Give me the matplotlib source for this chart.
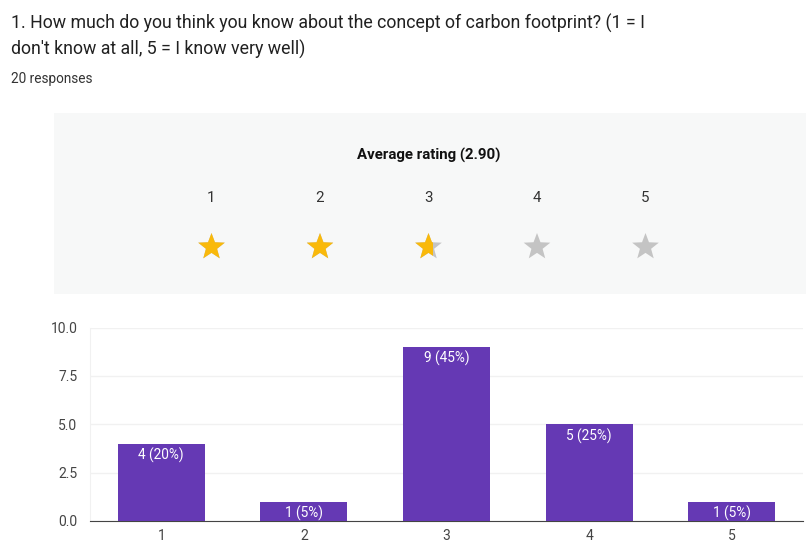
import matplotlib
matplotlib.use('Agg')
import matplotlib.pyplot as plt
from matplotlib.patches import Rectangle, Polygon
import numpy as np

plt.rcParams['font.family'] = 'Roboto'

ratings = ['1', '2', '3', '4', '5']
counts = [4, 1, 9, 5, 1]
bar_labels = ['4 (20%)', '1 (5%)', '9 (45%)', '5 (25%)', '1 (5%)']
y_ticks = [0, 2.5, 5, 7.5, 10]
y_labels = ['0.0', '2.5', '5.0', '7.5', '10.0']
# share of each star drawn in gold, as it looks in the picture
star_fill = [1, 1, 0.68, 0, 0]
star_x = [211.5, 320, 428.5, 537, 645.5]

W, H = 806, 556
fig = plt.figure(figsize=(W / 100, H / 100), dpi=100)

# full figure overlay in pixel coordinates
bg = fig.add_axes([0, 0, 1, 1])
bg.set_xlim(0, W)
bg.set_ylim(H, 0)
bg.axis('off')

bg.text(11, 23.5, '1. How much do you think you know about the concept of carbon footprint? (1 = I',
        fontsize=12.8, color='#212121', va='center')
bg.text(11, 49.5, "don't know at all, 5 = I know very well)",
        fontsize=12.8, color='#212121', va='center')
bg.text(11, 79.5, '20 responses', fontsize=9.8, color='#333333', va='center')

bg.add_patch(Rectangle((54, 113), 752, 181, color='#f7f8f8', lw=0))
bg.text(428.5, 155.5, 'Average rating (2.90)', fontsize=10.8, fontweight='bold',
        color='#111111', ha='center', va='center')


def star_points(cx, cy, r):
    pts = []
    for i in range(10):
        rad = r if i % 2 == 0 else r * 0.42
        ang = np.pi / 2 + i * np.pi / 5
        pts.append((cx + rad * np.cos(ang), cy - rad * np.sin(ang)))
    return pts


for i, x in enumerate(star_x):
    bg.text(x, 197.5, ratings[i], fontsize=10.8, color='#333333', ha='center', va='center')
    bg.add_patch(Polygon(star_points(x, 247, 14), closed=True, color='#c4c4c4', lw=0))
    if star_fill[i] > 0:
        gold = Polygon(star_points(x, 247, 14), closed=True, color='#f9b90b', lw=0)
        bg.add_patch(gold)
        clip = Rectangle((x - 13.4, 230), 26.8 * star_fill[i], 32, transform=bg.transData)
        gold.set_clip_path(clip)

ax = fig.add_axes([90 / W, 1 - 521 / H, (803 - 90) / W, (521 - 327.5) / H])
ax.bar(range(5), counts, width=0.61, color='#6539b4', zorder=3)
ax.set_xlim(-0.5, 4.5)
ax.set_ylim(0, 10)
ax.set_xticks(range(5))
ax.set_xticklabels(ratings)
ax.set_yticks(y_ticks)
ax.set_yticklabels(y_labels)
ax.tick_params(length=0, labelsize=10, labelcolor='#444444')
ax.tick_params(axis='y', pad=9)
ax.tick_params(axis='x', pad=6)
ax.grid(axis='y', color='#f1f1f1', lw=1, zorder=0)
for side in ['top', 'right']:
    ax.spines[side].set_visible(False)
ax.spines['left'].set_color('#f1f1f1')
ax.spines['bottom'].set_color('#444444')

for i in range(5):
    ax.annotate(bar_labels[i], (i, counts[i]), xytext=(0, -3), textcoords='offset points',
                ha='center', va='top', color='white', fontsize=9.8, zorder=4)

fig.savefig('out.png', dpi=100)
